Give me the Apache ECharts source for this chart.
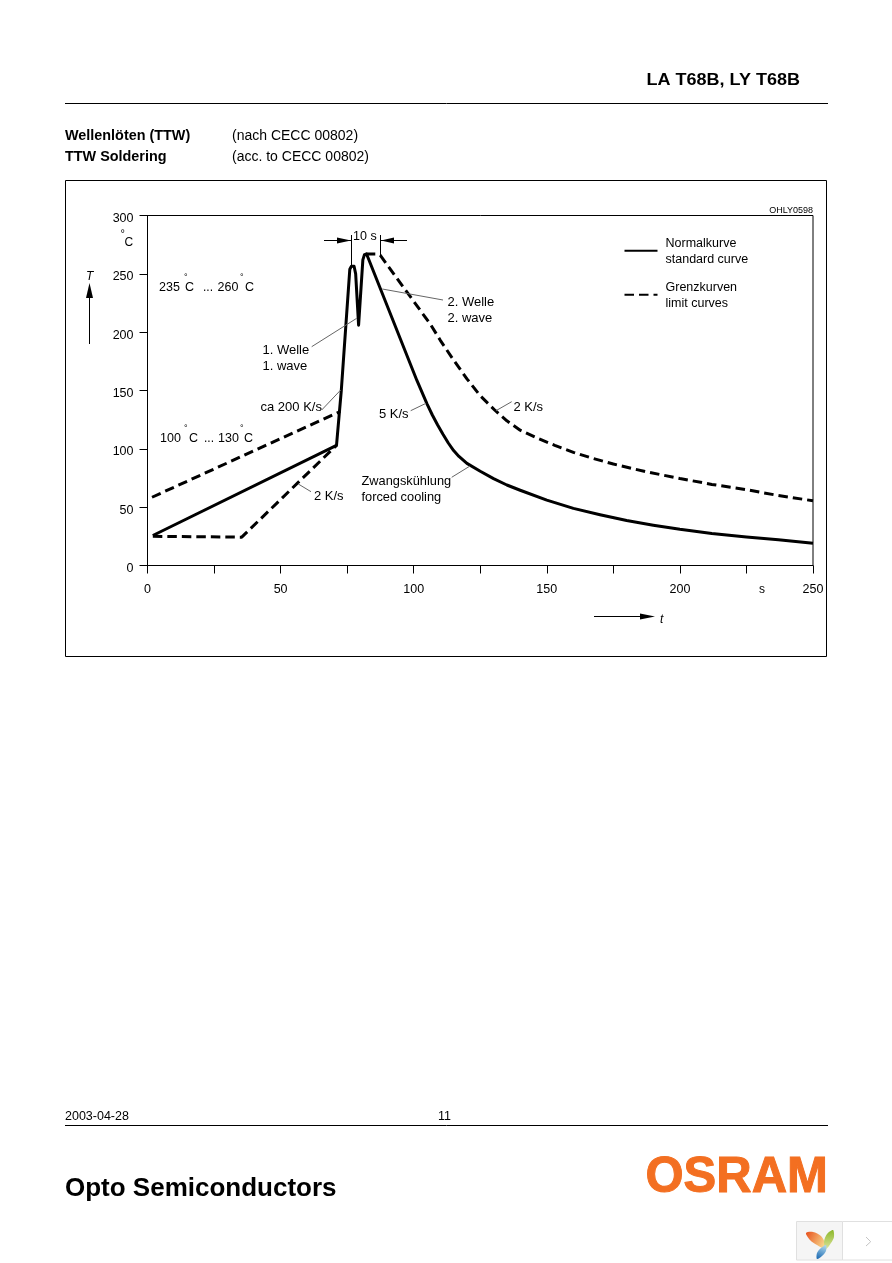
<!DOCTYPE html>
<html><head><meta charset="utf-8">
<style>html,body{margin:0;padding:0;background:#fff}#c{width:892px;height:1263px}</style>
<script src="https://cdn.jsdelivr.net/npm/echarts@6/dist/echarts.min.js"></script>
</head><body><div id="c"></div>
<script>
const xTicks = [0, 50, 100, 150, 200, 250];
const yTicks = [0, 50, 100, 150, 200, 250, 300];
const standardCurve = [[2,25.7],[71,103],[72.8,150],[76,254],[76.6,256.5],[77.6,256.5],[78.2,250],[79.3,206],[80.9,262],[81.5,266.5],[82.3,267],[101.2,158.6],[105,138.6],[107,129],[109,120.5],[111,112.5],[113,105],[115,98.5],[117,93.5],[120,87.5],[125,80.8],[130,74.5],[135,69],[140,64.5],[150,56],[160,49],[170,43.5],[180,38.5],[190,34.5],[200,31],[212,27.5],[225,24.5],[237,22],[250,19]];
const upperLimit = [[1.7,58.5],[72.4,132]];
const lowerLimit = [[2,25],[35.4,24.3],[71,103]];
const coolingLimit = [[82,267],[86,267],[87.4,266],[106.2,207],[110,193],[115,176],[120,160],[125,145.5],[130.6,132.9],[135,124],[140,116],[147,108.6],[153,103],[160,97],[167,92],[175,87],[187,80.5],[200,74.6],[212,69.5],[225,65],[237,60],[250,55.5]];

const FF = '"Liberation Sans", Arial, sans-serif';
const g = [];
function txt(text, x, y, size, opt) {
  opt = opt || {};
  y += 1;
  g.push({type:'text', z:50, silent:true, scaleX:opt.sx||1, originX:x, originY:y,
    style:{text, x, y, fill:opt.fill||'#000', textAlign:opt.align||'left', textVerticalAlign:'middle',
      stroke:opt.stroke||null, lineWidth:opt.stroke?1:0,
      font:(opt.style?opt.style+' ':'')+(opt.bold?'bold ':'')+size+'px '+FF}});
}
function ln(pts, color, w) {
  g.push({type:'polyline', z:40, silent:true, shape:{points:pts}, style:{stroke:color||'#000', lineWidth:w||1, fill:null}});
}
function poly(pts, fill, smooth) {
  g.push({type:'polygon', z:45, silent:true, shape:{points:pts, smooth:smooth||0}, style:{fill}});
}
// page furniture
txt('LA T68B, LY T68B', 800, 79.5, 17, {bold:true, align:'right', sx:1.06});
ln([[65,103.5],[828,103.5]]);
txt('Wellenlöten (TTW)', 65, 135.5, 14.4, {bold:true});
txt('(nach CECC 00802)', 232, 135.5, 14);
txt('TTW Soldering', 65, 156.5, 14.4, {bold:true});
txt('(acc. to CECC 00802)', 232, 156.5, 14);
g.push({type:'rect', z:1, silent:true, shape:{x:65.5,y:180.5,width:761,height:476}, style:{stroke:'#000', lineWidth:1, fill:null}});
txt('2003-04-28', 65, 1116, 12.5);
txt('11', 438, 1116, 12.5);
ln([[65,1125.5],[828,1125.5]]);
txt('Opto Semiconductors', 65, 1187.5, 26, {bold:true});
txt('OSRAM', 645.5, 1177, 50, {bold:true, fill:'#f36f21', stroke:'#f36f21', sx:0.98});
// corner widget
g.push({type:'rect', z:1, silent:true, shape:{x:796.5,y:1221.5,width:46,height:38.5}, style:{fill:'#f5f5f5', stroke:'#e0e0e0', lineWidth:1}});
g.push({type:'rect', z:1, silent:true, shape:{x:842.5,y:1221.5,width:50,height:38.5}, style:{fill:'#fff', stroke:'#e0e0e0', lineWidth:1}});
poly([[806,1233],[813,1232],[821,1236],[825,1243],[825,1249],[817,1245],[810,1240]], {type:'linear',x:0,y:0,x2:1,y2:0.6,colorStops:[{offset:0,color:'#e8501c'},{offset:1,color:'#f7d58a'}]}, 0.3);
poly([[833,1230],[834,1237],[831,1243],[826,1249],[824,1242],[827,1234]], {type:'linear',x:0,y:0,x2:0,y2:1,colorStops:[{offset:0,color:'#8cb82b'},{offset:1,color:'#dbe39a'}]}, 0.3);
poly([[826,1245],[826,1251],[822,1256],[817,1259],[817,1253],[821,1248]], {type:'linear',x:0,y:1,x2:0.6,y2:0,colorStops:[{offset:0,color:'#1565b0'},{offset:1,color:'#a9d3ea'}]}, 0.3);
ln([[866,1237],[870.7,1241.7],[866,1246]], '#c4c4c4', 1);
// chart annotations
txt('OHLY0598', 813, 209.5, 9, {align:'right'});
txt('°', 120.5, 233, 11); txt('C', 124.5, 242, 12);
txt('s', 759, 589, 12);
txt('T', 86, 276, 12, {style:'italic'});
ln([[89.5,344],[89.5,295]]); poly([[89.5,283],[86,298],[93,298]], '#000');
ln([[594,616.5],[645,616.5]]); poly([[655,616.5],[640,613.5],[640,619.5]], '#000');
txt('t', 660, 618.5, 12, {style:'italic'});
txt('10 s', 353, 235.5, 12.5);
ln([[324,240.5],[351,240.5]]); ln([[380,240.5],[407,240.5]]);
ln([[351.5,235],[351.5,265]]); ln([[380.5,235],[380.5,255]]);
poly([[351,240.5],[337,237.5],[337,243.5]], '#000');
poly([[381,240.5],[394,237.5],[394,243.5]], '#000');
// range labels
txt('235', 159, 286.5, 12.5); txt('°', 184, 277, 9); txt('C', 185, 286.5, 12.5); txt('...', 203, 286.5, 12);
txt('260', 217.5, 286.5, 12.5); txt('°', 240, 277, 9); txt('C', 245, 286.5, 12.5);
txt('100', 160, 437.5, 12.5); txt('°', 184, 428, 9); txt('C', 189, 437.5, 12.5); txt('...', 204, 437.5, 12);
txt('130', 218, 437.5, 12.5); txt('°', 240, 428, 9); txt('C', 244, 437.5, 12.5);
txt('1. Welle', 262.5, 349, 13); txt('1. wave', 262.5, 365.5, 13);
txt('ca 200 K/s', 260.5, 406, 13);
txt('5 K/s', 379, 413, 13);
txt('2 K/s', 314, 495, 13);
txt('Zwangskühlung', 361.5, 480, 12.8); txt('forced cooling', 361.5, 496, 12.8);
txt('2. Welle', 447.5, 301, 13); txt('2. wave', 447.5, 317, 13);
txt('2 K/s', 513.5, 406, 13);
const leader = '#666';
ln([[311.7,346.7],[356.7,318.3]], leader);
ln([[382.3,289],[443,300]], leader);
ln([[321.7,410],[340.7,390]], leader);
ln([[410.7,410.7],[426,403.3]], leader);
ln([[298.3,484],[311,491.7]], leader);
ln([[451.7,477.3],[470,466]], leader);
ln([[496,410.7],[511.7,401.7]], leader);

const legendText = {Normalkurve:'{a|Normalkurve}\n{b|standard curve}', Grenzkurven:'{a|Grenzkurven}\n{b|limit curves}'};
const solid = {color:'#000', width:3, join:'round'};
const dashed = {color:'#000', width:3, type:[9.5,5]};
function s(name, data, lineStyle) {
  return {type:'line', name, data, symbol:'none', showSymbol:false, smooth:false, lineStyle, itemStyle:{color:'#000'}, animation:false, z:5};
}
const chart = echarts.init(document.getElementById('c'), null, {renderer:'canvas'});
chart.setOption({
  animation:false,
  backgroundColor:'#fff',
  textStyle:{fontFamily:FF},
  grid:{left:147.5, right:79, top:215.5, height:350, show:true, borderColor:'#000', borderWidth:1, backgroundColor:'transparent'},
  legend:{orient:'vertical', left:623.5, top:234.5, padding:0, itemWidth:33, itemHeight:14, itemGap:12, itemStyle:{opacity:0},
    data:['Normalkurve','Grenzkurven'], selectedMode:false,
    formatter:n=>legendText[n],
    textStyle:{fontSize:12.5, color:'#000', fontFamily:FF,
      rich:{a:{fontSize:12.5, color:'#000', fontFamily:FF, lineHeight:16.5, padding:[3,0,0,3]},
            b:{fontSize:12.5, color:'#000', fontFamily:FF, lineHeight:16.5, padding:[2,0,0,3]}}}},
  xAxis:{type:'value', min:0, max:250, interval:25, splitLine:{show:false},
    axisLine:{lineStyle:{color:'#000', width:1}},
    axisTick:{length:8, lineStyle:{color:'#000', width:1}},
    axisLabel:{color:'#000', fontSize:12.5, fontFamily:FF, margin:18, showMinLabel:true, showMaxLabel:true, hideOverlap:false,
      formatter:v=>xTicks.includes(v)?String(v):''}},
  yAxis:{type:'value', min:0, max:300, interval:50, splitLine:{show:false},
    axisLine:{show:true, lineStyle:{color:'#000', width:1}},
    axisTick:{show:true, length:8, lineStyle:{color:'#000', width:1}},
    axisLabel:{color:'#000', fontSize:12.5, fontFamily:FF, margin:14, verticalAlign:'top', lineHeight:6, showMinLabel:true, showMaxLabel:true,
      formatter:v=>yTicks.includes(v)?String(v):''}},
  series:[
    s('Normalkurve', standardCurve, solid),
    s('Grenzkurven', upperLimit, dashed),
    s('Grenzkurven', lowerLimit, dashed),
    s('Grenzkurven', coolingLimit, dashed)
  ],
  graphic:{elements:g}
});
</script></body></html>
